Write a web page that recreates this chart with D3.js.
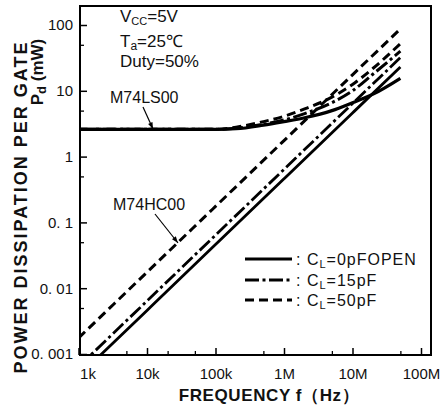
<!DOCTYPE html>
<html><head><meta charset="utf-8">
<script src="https://cdn.jsdelivr.net/npm/d3@7"></script>
<style>
body{margin:0;background:#fff;}
text{font-family:"Liberation Sans",Arial,sans-serif;fill:#111;}
</style></head>
<body><svg id="c" width="446" height="406"></svg>
<script>
// ---- data ----
const xTicksMajor = [1e3, 1e4, 1e5, 1e6, 1e7, 1e8];
const xTickLabels = ["1k", "10k", "100k", "1M", "10M", "100M"];
const xTicksMinor = [5e3, 2e4, 5e4, 5e5, 5e6, 5e7];
const yTicksMajor = [0.001, 0.01, 0.1, 1, 10, 100];
const yTickLabels = ["0. 001", "0. 01", "0. 1", "1", "10", "100"];
const yTicksMinor = [0.005, 0.05, 0.5, 5, 50];

const hcFreq = [1e3, 1e4, 1e5, 1e6, 1e7, 5e7];
const hc0  = [0.00046, 0.0046, 0.046, 0.46, 4.6, 23];
const hc15 = [0.00064, 0.0064, 0.064, 0.64, 6.4, 32];
const hc50 = [0.00175, 0.0175, 0.175, 1.75, 17.5, 87];

const lsFreq = [1e3, 1e4, 1e5, 2e5, 5e5, 1e6, 2e6, 5e6, 1e7, 2e7, 5e7];
const ls0  = [2.6, 2.6, 2.6, 2.65, 3.0, 3.4, 3.9, 5.0, 6.6, 8.9, 15.5];
const ls15 = [2.6, 2.6, 2.6, 2.7, 3.1, 3.6, 4.5, 6.6, 10, 18, 40];
const ls50 = [2.6, 2.6, 2.6, 2.8, 3.4, 4.1, 5.3, 8.0, 12.5, 22, 52];

const legendLabels = ["0pFOPEN", "15pF", "50pF"];
// ---------------------------------------

const svg = d3.select("#c");
const x = d3.scaleLog().domain([1e3, 1e8]).range([78.5, 421]);
const y = d3.scaleLog().domain([1e-3, 100]).range([354, 25]);
const X0 = 80, X1 = 431, Y0 = 6, Y1 = 355;

const styles = {
  solid: null,
  dashdot: "14,3.5,3,3.5",
  dashed: "9,5"
};

svg.append("clipPath").attr("id","clip").append("rect")
  .attr("x", X0).attr("y", Y0).attr("width", X1-X0).attr("height", Y1-Y0);

const g = svg.append("g").attr("clip-path","url(#clip)");
const line = d3.line().x(d=>x(d[0])).y(d=>y(d[1])).curve(d3.curveMonotoneX);

function draw(fr, vals, dash, w){
  g.append("path").datum(fr.map((f,i)=>[f, vals[i]]))
    .attr("d", line).attr("fill","none").attr("stroke","#000")
    .attr("stroke-width", w).attr("stroke-dasharray", dash)
    .attr("stroke-linecap","butt");
}
draw(hcFreq, hc0, styles.solid, 2.8);
draw(hcFreq, hc15, styles.dashdot, 2.8);
draw(hcFreq, hc50, styles.dashed, 3);
draw(lsFreq, ls50, styles.dashed, 3);
draw(lsFreq, ls15, styles.dashdot, 3);
draw(lsFreq, ls0, styles.solid, 3.2);

// frame
svg.append("rect").attr("x",X0).attr("y",Y0).attr("width",X1-X0).attr("height",Y1-Y0)
  .attr("fill","none").attr("stroke","#000").attr("stroke-width",2);

// axes
const xAxis = d3.axisBottom(x).tickValues(xTicksMajor).tickSize(-7).tickPadding(9)
  .tickFormat((d,i)=>xTickLabels[i]);
const gx = svg.append("g").attr("transform",`translate(0,${Y1})`).call(xAxis);
gx.select(".domain").remove();
gx.selectAll(".tick line").attr("stroke","#000").attr("stroke-width",1.5);
gx.selectAll(".tick text").attr("font-size",15).attr("fill","#111")
  .attr("font-family","Liberation Sans, Arial, sans-serif").attr("dy","1em");
gx.selectAll(".tick").filter(d=>d===1e3).select("text").attr("dx",9);

const gxm = svg.append("g").attr("transform",`translate(0,${Y1})`)
  .call(d3.axisBottom(x).tickValues(xTicksMinor).tickSize(-4).tickFormat(""));
gxm.select(".domain").remove();
gxm.selectAll(".tick line").attr("stroke","#000").attr("stroke-width",1.3);

const yAxis = d3.axisLeft(y).tickValues(yTicksMajor).tickSize(-7).tickPadding(7)
  .tickFormat((d,i)=>yTickLabels[i]);
const gy = svg.append("g").attr("transform",`translate(${X0},0)`).call(yAxis);
gy.select(".domain").remove();
gy.selectAll(".tick line").attr("stroke","#000").attr("stroke-width",1.5);
gy.selectAll(".tick text").attr("font-size",15).attr("fill","#111")
  .attr("font-family","Liberation Sans, Arial, sans-serif");

const gym = svg.append("g").attr("transform",`translate(${X0},0)`)
  .call(d3.axisLeft(y).tickValues(yTicksMinor).tickSize(-4).tickFormat(""));
gym.select(".domain").remove();
gym.selectAll(".tick line").attr("stroke","#000").attr("stroke-width",1.3);

// axis titles
svg.append("text").attr("x",269).attr("y",401).attr("text-anchor","middle")
  .attr("font-size",17).attr("font-weight","bold").attr("letter-spacing",0.6)
  .text("FREQUENCY f（Hz）");

svg.append("text").attr("transform","translate(27,207) rotate(-90)")
  .attr("text-anchor","middle").attr("font-size",18).attr("font-weight","bold")
  .attr("letter-spacing",2)
  .text("POWER DISSIPATION PER GATE");
const pd = svg.append("text").attr("transform","translate(43,72) rotate(-90)")
  .attr("text-anchor","middle").attr("font-size",17).attr("font-weight","bold");
pd.append("tspan").text("P");
pd.append("tspan").attr("font-size",13).attr("dy",3).text("d");
pd.append("tspan").attr("dy",-3).text(" (mW)");

// conditions
const fs = 17;
const t1 = svg.append("text").attr("x",120).attr("y",22).attr("font-size",fs);
t1.append("tspan").text("V");
t1.append("tspan").attr("font-size",11).attr("dy",3).text("CC");
t1.append("tspan").attr("dy",-3).text("=5V");
const t2 = svg.append("text").attr("x",120).attr("y",47).attr("font-size",fs);
t2.append("tspan").text("T");
t2.append("tspan").attr("font-size",12).attr("dy",3).text("a");
t2.append("tspan").attr("dy",-3).text("=25℃");
svg.append("text").attr("x",120).attr("y",67).attr("font-size",fs).text("Duty=50%");

// part labels + arrows
svg.append("text").attr("x",110).attr("y",103).attr("font-size",16).text("M74LS00");
svg.append("text").attr("x",113).attr("y",210).attr("font-size",16).text("M74HC00");

function arrow(x1,y1,x2,y2){
  svg.append("line").attr("x1",x1).attr("y1",y1).attr("x2",x2).attr("y2",y2)
    .attr("stroke","#000").attr("stroke-width",1.2);
  const a = Math.atan2(y2-y1,x2-x1), L=7, s=0.35;
  const p = [[x2,y2],[x2-L*Math.cos(a-s),y2-L*Math.sin(a-s)],[x2-L*Math.cos(a+s),y2-L*Math.sin(a+s)]];
  svg.append("path").attr("d","M"+p.map(q=>q.join(",")).join("L")+"Z").attr("fill","#000");
}
arrow(143,107,153,129);
arrow(155,214,178,243);

// legend
const legDash = [styles.solid, styles.dashdot, styles.dashed];
const legY = [259, 280, 300];
legendLabels.forEach((lab,i)=>{
  svg.append("line").attr("x1",245).attr("x2",292).attr("y1",legY[i]).attr("y2",legY[i])
    .attr("stroke","#000").attr("stroke-width",2.8).attr("stroke-dasharray",legDash[i]);
  const t = svg.append("text").attr("x",296).attr("y",legY[i]+6).attr("font-size",16)
    .attr("letter-spacing",1);
  t.append("tspan").text(": C");
  t.append("tspan").attr("font-size",11).attr("dy",3).text("L");
  t.append("tspan").attr("dy",-3).text("="+lab);
});
</script></body></html>
